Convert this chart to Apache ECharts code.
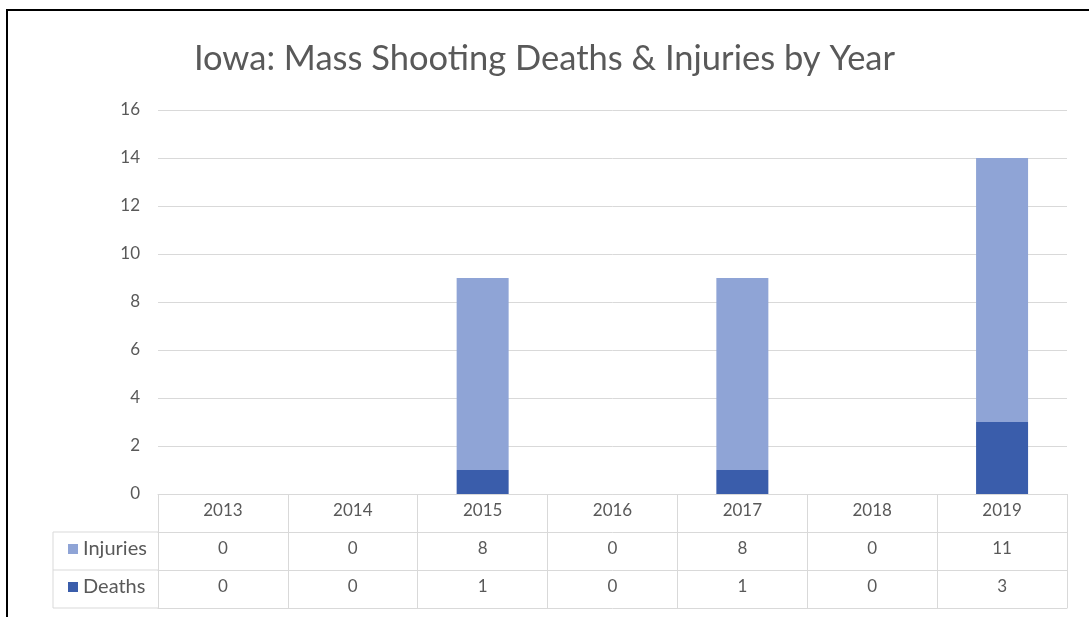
<!DOCTYPE html>
<html>
<head>
<meta charset="utf-8">
<script src="https://cdn.jsdelivr.net/npm/echarts@6/dist/echarts.min.js"></script>
<style>
html,body{margin:0;padding:0;background:#fff;}
#chart{width:1089px;height:617px;}
</style>
</head>
<body>
<div id="chart"></div>
<script>
var years = ['2013','2014','2015','2016','2017','2018','2019'];
var injuries = [0,0,8,0,8,0,11];
var deaths = [0,0,1,0,1,0,3];
var yTicks = [0,2,4,6,8,10,12,14,16];

var FONT = 'Lato';
var TXT = '#595959';
var LINE = '#D9D9D9';
var GL = 158, GR = 1089 - 1067, GT = 110, GB = 617 - 494;
var ROW = 38;
var LABEL_COL_LEFT = 53;

var chart = echarts.init(document.getElementById('chart'), null, {renderer:'canvas'});

function tableAxis(idx, offset, labelFn, showLabel, showTicks){
  return {
    type:'category', data: years, position:'bottom', offset: offset, gridIndex:0,
    boundaryGap:true,
    axisLine:{show:true, lineStyle:{color:LINE, width:1}},
    axisTick:{show:showTicks, length:ROW, inside:false, interval:0, lineStyle:{color:LINE, width:1}},
    axisLabel:{show:showLabel, interval:0, margin:8, color:TXT, fontFamily:FONT, fontSize:17, formatter: labelFn},
    splitLine:{show:false}
  };
}

var option = {
  backgroundColor:'#fff',
  animation:false,
  title:{
    text:'Iowa: Mass Shooting Deaths & Injuries by Year',
    left:'center', top:36,
    textStyle:{color:TXT, fontFamily:FONT, fontWeight:'normal', fontSize:34.5}
  },
  legend:{
    data:['Injuries','Deaths'],
    orient:'vertical', left:63, top:534,
    itemWidth:10, itemHeight:10, itemGap:18, icon:'rect',
    textStyle:{color:TXT, fontFamily:FONT, fontSize:20, lineHeight:20},
    selectedMode:false
  },
  grid:{left:GL, right:GR, top:GT, bottom:GB, containLabel:false},
  xAxis:[
    tableAxis(0, 0, function(v,i){return v;}, true, true),
    tableAxis(1, ROW, function(v,i){return String(injuries[i]);}, true, true),
    tableAxis(2, ROW*2, function(v,i){return String(deaths[i]);}, true, true),
    tableAxis(3, ROW*3, function(v,i){return '';}, false, false)
  ],
  yAxis:{
    type:'value', min:0, max:16, interval:2,
    axisLine:{show:false}, axisTick:{show:false},
    axisLabel:{color:TXT, fontFamily:FONT, fontSize:17, margin:18},
    splitLine:{lineStyle:{color:LINE, width:1}}
  },
  series:[
    {name:'Deaths', type:'bar', stack:'t', data:deaths, barWidth:52, xAxisIndex:0,
     itemStyle:{color:'#3A5DAB'}},
    {name:'Injuries', type:'bar', stack:'t', data:injuries, barWidth:52, xAxisIndex:0,
     itemStyle:{color:'#8FA4D6'}}
  ],
  graphic:[
    {type:'polyline', silent:true, shape:{points:[[GL, GT+384+ROW],[LABEL_COL_LEFT, GT+384+ROW],[LABEL_COL_LEFT, GT+384+ROW*3],[GL, GT+384+ROW*3]]},
     style:{stroke:LINE, lineWidth:1, fill:null}},
    {type:'line', silent:true, shape:{x1:LABEL_COL_LEFT, y1:GT+384+ROW*2, x2:GL, y2:GT+384+ROW*2},
     style:{stroke:LINE, lineWidth:1}},
    {type:'rect', silent:true, shape:{x:7, y:10, width:1200, height:700},
     style:{stroke:'#000', lineWidth:2, fill:null}}
  ]
};
chart.setOption(option);
</script>
</body>
</html>
